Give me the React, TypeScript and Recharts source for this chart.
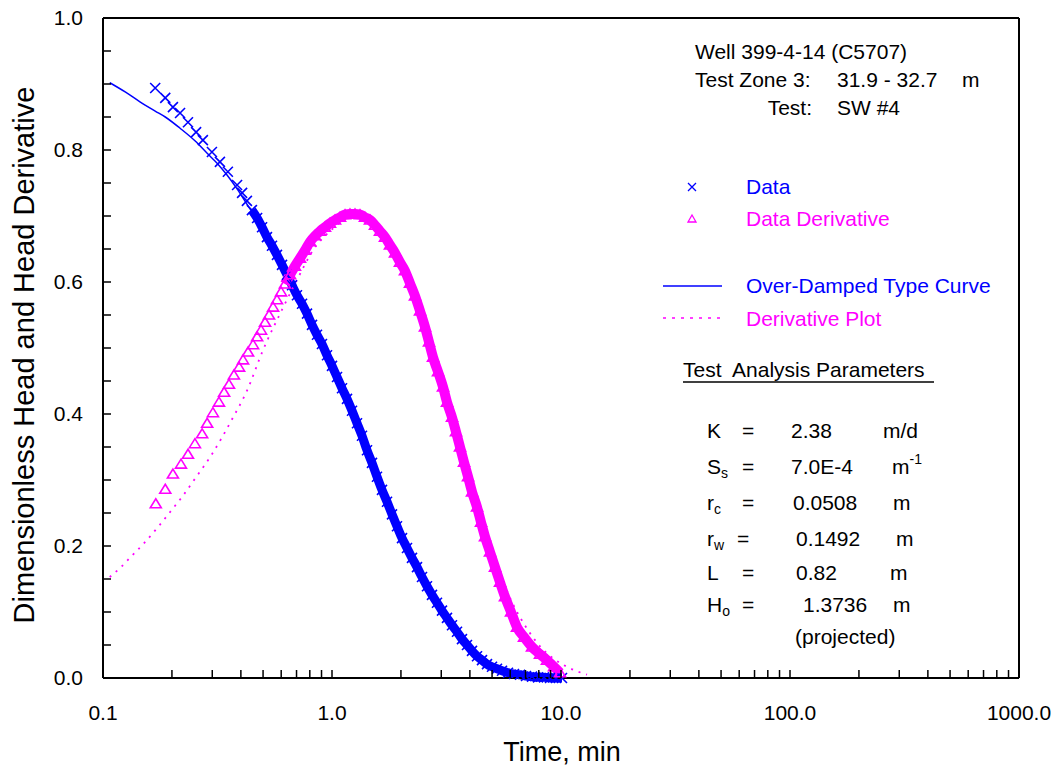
import { ComposedChart, Line, Scatter, XAxis, YAxis, ReferenceLine } from 'recharts'

// measured data: dimensionless head (crosses)
const dataTime = [
  0.169, 0.187, 0.202, 0.217, 0.235, 0.255, 0.273, 0.299, 0.324, 0.351, 0.385, 0.405, 0.425, 0.447, 0.471,
  0.495, 0.52, 0.547, 0.575, 0.605, 0.636, 0.669, 0.703, 0.74, 0.778, 0.818, 0.86, 0.904, 0.951, 1.0,
  1.052, 1.106, 1.163, 1.223, 1.286, 1.352, 1.422, 1.495, 1.572, 1.653, 1.739, 1.828, 1.922, 2.022, 2.126,
  2.235, 2.351, 2.472, 2.599, 2.733, 2.874, 3.022, 3.178, 3.342, 3.515, 3.695, 3.886, 4.087, 4.298, 4.519,
  4.752, 4.997, 5.254, 5.526, 5.87, 6.234, 6.622, 7.034, 7.471, 7.936, 8.429, 8.954, 9.511, 10.1,
]
const dataHead = [
  0.894, 0.879, 0.865, 0.856, 0.842, 0.827, 0.815, 0.797, 0.782, 0.767, 0.747, 0.735, 0.723, 0.709, 0.697,
  0.683, 0.668, 0.655, 0.641, 0.626, 0.611, 0.595, 0.58, 0.567, 0.552, 0.535, 0.52, 0.506, 0.489, 0.473,
  0.456, 0.439, 0.423, 0.405, 0.386, 0.367, 0.345, 0.326, 0.305, 0.285, 0.267, 0.248, 0.23, 0.212, 0.197,
  0.182, 0.168, 0.153, 0.139, 0.126, 0.114, 0.102, 0.091, 0.08, 0.07, 0.059, 0.05, 0.041, 0.033, 0.027,
  0.021, 0.017, 0.014, 0.011, 0.008, 0.006, 0.005, 0.003, 0.002, 0.001, 0.001, 0.0, 0.0, 0.0,
]

// measured data: head derivative (triangles)
const derivTime = [
  0.17, 0.187, 0.202, 0.219, 0.235, 0.252, 0.271, 0.285, 0.302, 0.321, 0.338, 0.355, 0.373, 0.393, 0.409,
  0.43, 0.452, 0.471, 0.49, 0.51, 0.531, 0.553, 0.575, 0.599, 0.623, 0.656, 0.689, 0.725, 0.762, 0.802,
  0.843, 0.886, 0.932, 0.98, 1.031, 1.084, 1.14, 1.198, 1.26, 1.325, 1.393, 1.465, 1.541, 1.62, 1.704,
  1.791, 1.884, 1.981, 2.083, 2.191, 2.304, 2.423, 2.547, 2.652, 2.761, 2.904, 3.053, 3.178, 3.342, 3.479,
  3.622, 3.771, 3.926, 4.087, 4.298, 4.474, 4.658, 4.897, 5.15, 5.416, 5.694, 6.049, 6.425, 6.894, 7.471,
  8.096, 8.686, 9.32, 9.9,
]
const derivValue = [
  0.264, 0.286, 0.309, 0.324, 0.339, 0.355, 0.37, 0.386, 0.402, 0.418, 0.433, 0.445, 0.459, 0.471, 0.482,
  0.494, 0.505, 0.517, 0.527, 0.539, 0.55, 0.562, 0.573, 0.585, 0.597, 0.611, 0.624, 0.636, 0.648, 0.661,
  0.67, 0.677, 0.683, 0.689, 0.694, 0.698, 0.702, 0.703, 0.703, 0.702, 0.698, 0.694, 0.686, 0.677, 0.668,
  0.656, 0.644, 0.63, 0.617, 0.598, 0.579, 0.556, 0.532, 0.509, 0.486, 0.464, 0.441, 0.418, 0.395, 0.373,
  0.35, 0.327, 0.305, 0.282, 0.259, 0.236, 0.214, 0.191, 0.168, 0.145, 0.123, 0.1, 0.077, 0.062, 0.047,
  0.036, 0.027, 0.017, 0.008,
]

// over-damped type curve
const curveTime = [
  0.107, 0.125, 0.145, 0.169, 0.187, 0.217, 0.252, 0.285, 0.315, 0.348, 0.385, 0.425, 0.471, 0.52, 0.575,
  0.636, 0.703, 0.778, 0.904, 1.062, 1.26, 1.48, 1.756, 2.063, 2.423, 2.846, 3.342, 3.926, 4.611, 5.416,
  6.622, 8.514, 13.12,
]
const curveHead = [
  0.902, 0.888, 0.873, 0.859, 0.85, 0.833, 0.814, 0.795, 0.78, 0.762, 0.741, 0.718, 0.694, 0.668, 0.641,
  0.612, 0.582, 0.552, 0.506, 0.455, 0.394, 0.335, 0.268, 0.211, 0.159, 0.117, 0.08, 0.048, 0.026, 0.012,
  0.005, 0.0, 0.0,
]

// derivative of the type curve (dotted)
const curveDerivTime = [
  0.107, 0.119, 0.131, 0.15, 0.177, 0.2, 0.221, 0.257, 0.299, 0.366, 0.425, 0.5, 0.605, 0.703, 0.826,
  0.98, 1.198, 1.393, 1.62, 1.847, 2.083, 2.304, 2.547, 2.761, 3.053, 3.342, 3.622, 3.926, 4.298, 4.658,
  5.15, 5.694, 6.109, 6.622, 7.322, 8.096, 9.228, 10.62, 12.99,
]
const curveDerivValue = [
  0.153, 0.167, 0.182, 0.203, 0.232, 0.255, 0.274, 0.306, 0.339, 0.392, 0.435, 0.497, 0.558, 0.603, 0.648,
  0.677, 0.697, 0.697, 0.676, 0.648, 0.617, 0.579, 0.532, 0.489, 0.442, 0.398, 0.355, 0.311, 0.265, 0.223,
  0.18, 0.139, 0.115, 0.092, 0.068, 0.048, 0.03, 0.017, 0.005,
]

const xTicks = [
  0.1, 0.2, 0.3, 0.4, 0.5, 0.6, 0.7, 0.8, 0.9, 1, 2, 3, 4, 5, 6, 7, 8, 9, 10, 20, 30, 40, 50, 60, 70, 80, 90,
  100, 200, 300, 400, 500, 600, 700, 800, 900, 1000,
]
const xLabels = [0.1, 1, 10, 100, 1000]
const yTicks = [
  0, 0.05, 0.1, 0.15, 0.2, 0.25, 0.3, 0.35, 0.4, 0.45, 0.5, 0.55, 0.6, 0.65, 0.7, 0.75, 0.8, 0.85, 0.9, 0.95, 1,
]
const yLabels = [0, 0.2, 0.4, 0.6, 0.8, 1]

const dataPts = dataTime.map((t, i) => ({ t, y: dataHead[i] }))
const derivPts = derivTime.map((t, i) => ({ t, y: derivValue[i] }))
const curvePts = curveTime.map((t, i) => ({ t, y: curveHead[i] }))
const curveDerivPts = curveDerivTime.map((t, i) => ({ t, y: curveDerivValue[i] }))
// where the 1-second samples pile up into a solid band
const dataBand = dataPts.filter((p) => p.t >= 0.44)
const derivBand = derivPts.filter((p) => p.t >= 0.6)

const W = 1058
const H = 769
const LEFT = 103
const BOTTOM = 678
const FONT = "'Liberation Sans', Arial, sans-serif"
const BLUE = '#0000ff'
const MAGENTA = '#ff00ff'

function XTick(props: any) {
  const { x, payload } = props
  const v = payload.value
  return (
    <g>
      <line x1={x} x2={x} y1={BOTTOM} y2={BOTTOM - 8} stroke="#000" strokeWidth={1.5} />
      {xLabels.includes(v) && (
        <text x={x} y={720} textAnchor="middle" fontSize={21} fontFamily={FONT} fill="#000">
          {v.toFixed(1)}
        </text>
      )}
    </g>
  )
}

function YTick(props: any) {
  const { y, payload } = props
  const v = payload.value
  return (
    <g>
      <line x1={LEFT} x2={LEFT + 8} y1={y} y2={y} stroke="#000" strokeWidth={1.5} />
      {yLabels.includes(v) && (
        <text x={83} y={y + 7} textAnchor="end" fontSize={21} fontFamily={FONT} fill="#000">
          {v.toFixed(1)}
        </text>
      )}
    </g>
  )
}

function Cross(props: any) {
  const { cx, cy } = props
  const r = 5
  return (
    <path
      d={`M${cx - r},${cy - r}L${cx + r},${cy + r}M${cx - r},${cy + r}L${cx + r},${cy - r}`}
      stroke={BLUE}
      strokeWidth={1.6}
      fill="none"
    />
  )
}

function Tri(props: any) {
  const { cx, cy } = props
  return (
    <path
      d={`M${cx},${cy - 5}L${cx + 5.5},${cy + 4}L${cx - 5.5},${cy + 4}Z`}
      stroke={MAGENTA}
      strokeWidth={1.6}
      fill="none"
    />
  )
}

function Overlay() {
  const t = { fontFamily: FONT, fontSize: 21, fill: '#000' }
  const sub = { fontSize: 14 }
  return (
    <svg width={W} height={H} style={{ position: 'absolute', left: 0, top: 0, pointerEvents: 'none' }}>
      <text transform="translate(34,355) rotate(-90)" textAnchor="middle" fontFamily={FONT} fontSize={29} fill="#000">
        Dimensionless Head and Head Derivative
      </text>
      <text x={562} y={761} textAnchor="middle" fontFamily={FONT} fontSize={27} fill="#000">
        Time, min
      </text>

      <text x={695} y={59} {...t}>Well 399-4-14 (C5707)</text>
      <text x={695} y={87} {...t}>Test Zone 3:</text>
      <text x={837} y={87} {...t}>31.9 - 32.7</text>
      <text x={962} y={87} {...t}>m</text>
      <text x={812} y={115} textAnchor="end" {...t}>Test:</text>
      <text x={837} y={115} {...t}>SW #4</text>

      <path d="M688,183L696,191M688,191L696,183" stroke={BLUE} strokeWidth={1.3} />
      <text x={746} y={194} {...t} fill={BLUE}>Data</text>
      <path d="M692,215L696,222L688,222Z" stroke={MAGENTA} strokeWidth={1.3} fill="none" />
      <text x={746} y={226} {...t} fill={MAGENTA}>Data Derivative</text>
      <line x1={663} x2={722} y1={286} y2={286} stroke={BLUE} strokeWidth={1.5} />
      <text x={746} y={293} {...t} fill={BLUE}>Over-Damped Type Curve</text>
      <line x1={663} x2={722} y1={318} y2={318} stroke={MAGENTA} strokeWidth={1.5} strokeDasharray="3 6" />
      <text x={746} y={326} {...t} fill={MAGENTA}>Derivative Plot</text>

      <text x={683} y={377} {...t} style={{ whiteSpace: 'pre' }}>Test  Analysis Parameters</text>
      <line x1={683} x2={934} y1={382} y2={382} stroke="#000" strokeWidth={1.5} />

      <text x={707} y={438} {...t}>K</text>
      <text x={742} y={438} {...t}>=</text>
      <text x={791} y={438} {...t}>2.38</text>
      <text x={883} y={438} {...t}>m/d</text>

      <text x={707} y={474} {...t}>S<tspan {...sub} dy={4}>s</tspan></text>
      <text x={742} y={474} {...t}>=</text>
      <text x={791} y={474} {...t}>7.0E-4</text>
      <text x={892} y={474} {...t}>m<tspan {...sub} dy={-10}>-1</tspan></text>

      <text x={707} y={510} {...t}>r<tspan {...sub} dy={4}>c</tspan></text>
      <text x={742} y={510} {...t}>=</text>
      <text x={793} y={510} {...t}>0.0508</text>
      <text x={893} y={510} {...t}>m</text>

      <text x={707} y={546} {...t}>r<tspan {...sub} dy={4}>w</tspan></text>
      <text x={737} y={546} {...t}>=</text>
      <text x={796} y={546} {...t}>0.1492</text>
      <text x={896} y={546} {...t}>m</text>

      <text x={707} y={580} {...t}>L</text>
      <text x={742} y={580} {...t}>=</text>
      <text x={796} y={580} {...t}>0.82</text>
      <text x={890} y={580} {...t}>m</text>

      <text x={707} y={612} {...t}>H<tspan {...sub} dy={4}>o</tspan></text>
      <text x={742} y={612} {...t}>=</text>
      <text x={803} y={612} {...t}>1.3736</text>
      <text x={893} y={612} {...t}>m</text>

      <text x={795} y={644} {...t}>(projected)</text>
    </svg>
  )
}

export default function App() {
  return (
    <div style={{ position: 'absolute', left: 0, top: 0, width: W, height: H, background: '#fff' }}>
      <ComposedChart width={W} height={H} margin={{ top: 18, right: 39, bottom: 0, left: 0 }}>
        <XAxis
          dataKey="t"
          type="number"
          scale="log"
          domain={[0.1, 1000]}
          ticks={xTicks}
          interval={0}
          allowDataOverflow
          height={91}
          tickLine={false}
          tick={<XTick />}
          axisLine={{ stroke: '#000', strokeWidth: 2 }}
        />
        <YAxis
          dataKey="y"
          type="number"
          domain={[0, 1]}
          ticks={yTicks}
          interval={0}
          width={103}
          tickLine={false}
          tick={<YTick />}
          axisLine={{ stroke: '#000', strokeWidth: 2 }}
        />
        <ReferenceLine y={1} stroke="#000" strokeWidth={2} />
        <ReferenceLine x={1000} stroke="#000" strokeWidth={2} />
        <Line
          data={dataBand}
          dataKey="y"
          type="monotone"
          stroke={BLUE}
          strokeWidth={9}
          dot={false}
          isAnimationActive={false}
        />
        <Line
          data={derivBand}
          dataKey="y"
          type="monotone"
          stroke={MAGENTA}
          strokeWidth={10}
          dot={false}
          isAnimationActive={false}
        />
        <Line
          data={curvePts}
          dataKey="y"
          type="monotone"
          stroke={BLUE}
          strokeWidth={1.5}
          dot={false}
          isAnimationActive={false}
        />
        <Line
          data={curveDerivPts}
          dataKey="y"
          type="monotone"
          stroke={MAGENTA}
          strokeWidth={1.8}
          strokeDasharray="2 6"
          dot={false}
          isAnimationActive={false}
        />
        <Scatter data={dataPts} dataKey="y" shape={<Cross />} isAnimationActive={false} />
        <Scatter data={derivPts} dataKey="y" shape={<Tri />} isAnimationActive={false} />
      </ComposedChart>
      <Overlay />
    </div>
  )
}
